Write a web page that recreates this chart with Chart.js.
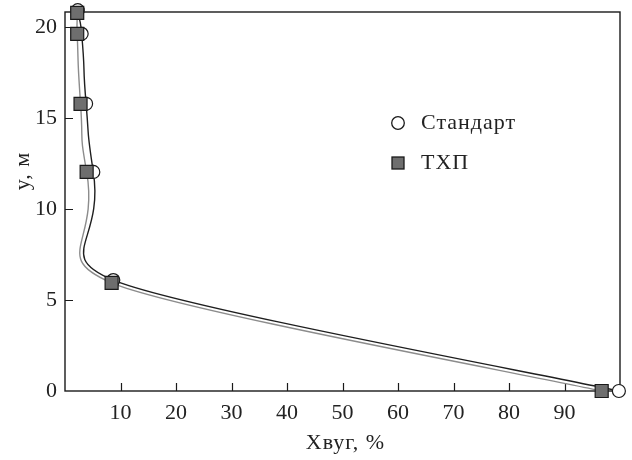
<!DOCTYPE html>
<html><head><meta charset="utf-8">
<script src="https://cdn.jsdelivr.net/npm/chart.js@4/dist/chart.umd.min.js"></script>
<style>html,body{margin:0;padding:0;background:#fff}</style>
</head><body>
<canvas id="c" width="632" height="460"></canvas>
<script>
// Data
const stdX = [2.3, 3.0, 3.8, 5.1, 8.7, 99.8];
const stdY = [20.95, 19.65, 15.8, 12.05, 6.1, 0];
const txpX = [2.2, 2.2, 2.8, 3.9, 8.4, 96.7];
const txpY = [20.8, 19.65, 15.8, 12.05, 5.95, 0];
const xTicks = [0, 10, 20, 30, 40, 50, 60, 70, 80, 90, 100];
const xTickLabels = ['', '10', '20', '30', '40', '50', '60', '70', '80', '90', ''];
const yTicks = [0, 5, 10, 15, 20];
const yTickLabels = ['0', '5', '10', '15', '20'];
const seriesNames = ['Стандарт', 'ТХП'];
const xTitle = 'Хвуг, %';
const yTitle = 'y, м';

const FONT = '"Liberation Serif", "DejaVu Serif", serif';
Chart.defaults.font.family = FONT;
Chart.defaults.color = '#222';

const toPts = (xs, ys) => xs.map((x, i) => ({x: x, y: ys[i]}));
const lastIdx = stdX.length - 1;

// smooth curve: upper part and the long lower segment use different tensions
const upperOnly = {borderColor: c => (c.p1DataIndex === lastIdx ? 'rgba(0,0,0,0)' : undefined)};
const lowerOnly = {borderColor: c => (c.p1DataIndex === lastIdx ? undefined : 'rgba(0,0,0,0)')};

function lineSet(pts, color, tension, seg, order) {
  return {data: pts, showLine: true, tension: tension, capBezierPoints: false,
          borderColor: color, borderWidth: 1.4,
          pointRadius: 0, segment: seg, clip: false, order: order};
}

const deco = {
  id: 'deco',
  beforeDatasetsDraw(chart) {
    const {ctx, chartArea: a, scales: {x, y}} = chart;
    ctx.save();
    ctx.strokeStyle = '#1a1a1a';
    ctx.lineWidth = 1.4;
    ctx.strokeRect(a.left, a.top, a.right - a.left, a.bottom - a.top);
    ctx.lineWidth = 1.2;
    ctx.beginPath();
    xTicks.forEach(v => {
      if (v <= 0 || v >= 100) return;
      const px = Math.round(x.getPixelForValue(v)) + 0.5;
      ctx.moveTo(px, a.bottom); ctx.lineTo(px, a.bottom - 8);
    });
    yTicks.forEach(v => {
      if (v <= 0) return;
      const py = Math.round(y.getPixelForValue(v)) + 0.5;
      ctx.moveTo(a.left, py); ctx.lineTo(a.left + 8, py);
    });
    ctx.stroke();
    ctx.restore();
  },
  afterDraw(chart) {
    const {ctx, chartArea: a} = chart;
    ctx.save();
    ctx.fillStyle = '#222';
    ctx.font = '22px ' + FONT;
    ctx.letterSpacing = '1px';
    ctx.textBaseline = 'middle';
    ctx.textAlign = 'center';
    ctx.fillText(xTitle, (a.left + a.right) / 2 + 3, 443);
    ctx.save();
    ctx.translate(23, 171);
    ctx.rotate(-Math.PI / 2);
    ctx.fillText(yTitle, 0, 0);
    ctx.restore();
    // legend
    ctx.textAlign = 'left';
    ctx.lineWidth = 1.3;
    ctx.strokeStyle = '#1a1a1a';
    ctx.beginPath();
    ctx.arc(398, 123, 6.3, 0, Math.PI * 2);
    ctx.fillStyle = '#fff';
    ctx.fill(); ctx.stroke();
    ctx.fillStyle = '#6e6e6e';
    ctx.fillRect(392, 157, 12, 12);
    ctx.strokeRect(392, 157, 12, 12);
    ctx.fillStyle = '#222';
    ctx.fillText(seriesNames[0], 421, 123);
    ctx.fillText(seriesNames[1], 421, 163);
    ctx.restore();
  }
};

const stdPts = toPts(stdX, stdY);
const txpPts = toPts(txpX, txpY);

new Chart(document.getElementById('c'), {
  type: 'scatter',
  data: {
    datasets: [
      {
        label: seriesNames[1],
        data: txpPts,
        showLine: false,
        pointStyle: 'rect',
        pointRadius: 9.2,
        pointBackgroundColor: '#6e6e6e',
        pointBorderColor: '#1a1a1a',
        pointBorderWidth: 1.2,
        clip: false,
        order: 0
      },
      {
        label: seriesNames[0],
        data: stdPts,
        showLine: false,
        pointStyle: 'circle',
        pointRadius: 6.5,
        pointBackgroundColor: '#ffffff',
        pointBorderColor: '#1a1a1a',
        pointBorderWidth: 1.2,
        clip: false,
        order: 1
      },
      lineSet(txpPts, '#8c8c8c', 0.65, upperOnly, 2),
      lineSet(txpPts, '#8c8c8c', 0.15, lowerOnly, 2),
      lineSet(stdPts, '#1f1f1f', 0.65, upperOnly, 3),
      lineSet(stdPts, '#1f1f1f', 0.15, lowerOnly, 3)
    ]
  },
  options: {
    responsive: false,
    animation: false,
    layout: {padding: {left: 0, right: 12, top: 12, bottom: 0}},
    plugins: {legend: {display: false}, tooltip: {enabled: false}},
    scales: {
      x: {
        type: 'linear', min: 0, max: 100,
        afterBuildTicks: s => { s.ticks = xTicks.map(v => ({value: v})); },
        afterFit: s => { s.height = 69; s.paddingLeft = 0; s.paddingRight = 0; },
        grid: {display: false, drawTicks: false},
        border: {display: false},
        ticks: {
          font: {size: 22}, padding: 9, maxRotation: 0, autoSkip: false,
          callback: (v) => { const i = xTicks.indexOf(v); return i >= 0 ? xTickLabels[i] : ''; }
        }
      },
      y: {
        type: 'linear', min: 0, max: 20.85,
        afterBuildTicks: s => { s.ticks = yTicks.map(v => ({value: v})); },
        afterFit: s => { s.width = 65; s.paddingTop = 0; s.paddingBottom = 0; },
        grid: {display: false, drawTicks: false},
        border: {display: false},
        ticks: {
          font: {size: 22}, padding: 8, autoSkip: false,
          callback: (v) => { const i = yTicks.indexOf(v); return i >= 0 ? yTickLabels[i] : ''; }
        }
      }
    }
  },
  plugins: [deco]
});
</script>
</body></html>
